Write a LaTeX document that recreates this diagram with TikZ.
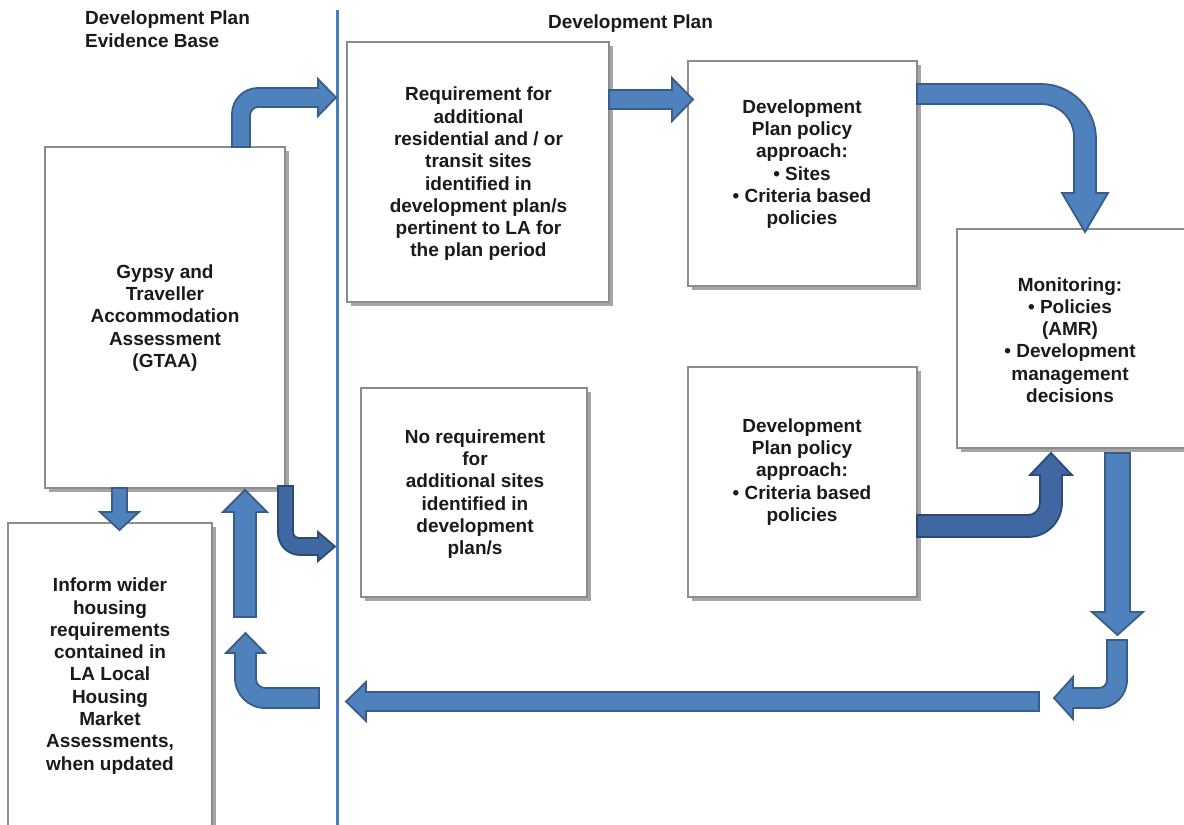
\documentclass[tikz,border=0pt]{standalone}
\usepackage{fontspec}
\setmainfont{Liberation Sans}
\usetikzlibrary{shadows}
\definecolor{arrfill}{HTML}{4F81BD}
\definecolor{arrdraw}{HTML}{385D8A}
\definecolor{darkfill}{HTML}{3F68A3}
\definecolor{darkdraw}{HTML}{2B4A75}
\definecolor{boxline}{HTML}{8C8C8C}
\definecolor{txtcol}{HTML}{1A1A1A}
\definecolor{divcol}{HTML}{4A7EBB}
\tikzset{
  box/.style={draw=boxline, line width=1.8pt, fill=white,
    drop shadow={shadow xshift=3.5pt, shadow yshift=-3.5pt, fill=black, opacity=0.35},
    inner sep=0pt},
  txt/.style={font=\bfseries\fontsize{19}{22.3}\selectfont, text=txtcol, align=center, inner sep=0pt},
  hdr/.style={font=\bfseries\fontsize{19}{23}\selectfont, text=txtcol, align=left, inner sep=0pt},
  barrow/.style={fill=arrfill, draw=arrdraw, line width=1.8pt, line join=miter},
  darrow/.style={fill=darkfill, draw=darkdraw, line width=1.8pt, line join=miter},
  divider/.style={draw=divcol, line width=3pt},
}
\begin{document}
\begin{tikzpicture}[x=1pt,y=-1pt]
\useasboundingbox (0,0) rectangle (1184,825);
\begin{scope}
\clip (0,0) rectangle (1184,825);
% headers
\node[hdr, anchor=north west] (hleft) at (85,11) {Development Plan\\Evidence Base};
\node[hdr, anchor=north west] (hright) at (548,15) {Development Plan};
% divider
\coordinate (dtop) at (337,10);
\coordinate (dbot) at (337,830);
\draw[divider] (dtop) -- (dbot);
% boxes
\node[box, minimum width=240pt, minimum height=341pt] (gtaa) at (165,317.5) {};
\node[box, minimum width=204pt, minimum height=312pt] (inform) at (110,679) {};
\node[box, minimum width=262pt, minimum height=260pt] (req) at (478,172) {};
\node[box, minimum width=229pt, minimum height=225pt] (pol1) at (802.5,173.5) {};
\node[box, minimum width=238pt, minimum height=219pt] (mon) at (1076,338.5) {};
\node[box, minimum width=226pt, minimum height=209pt] (noreq) at (474,492.5) {};
\node[box, minimum width=229pt, minimum height=230pt] (pol2) at (802.5,482) {};
% texts
\node[txt] (tgtaa) at (165,318) {Gypsy and\\Traveller\\Accommodation\\Assessment\\(GTAA)};
\node[txt] (tinform) at (110,676) {Inform wider\\housing\\requirements\\contained in\\LA Local\\Housing\\Market\\Assessments,\\when updated};
\node[txt] (treq) at (478.5,174) {Requirement for\\additional\\residential and / or\\transit sites\\identified in\\development plan/s\\pertinent to LA for\\the plan period};
\node[txt] (tpol1) at (802,164) {Development\\Plan policy\\approach:\\• Sites\\• Criteria based\\policies};
\node[txt] (tmon) at (1070,340) {Monitoring:\\• Policies\\(AMR)\\• Development\\management\\decisions};
\node[txt] (tnoreq) at (475,494) {No requirement\\for\\additional sites\\identified in\\development\\plan/s};
\node[txt] (tpol2) at (802,472) {Development\\Plan policy\\approach:\\• Criteria based\\policies};
% arrows
% GTAA -> requirement (bent)
\path[barrow] (232,147) -- (232,114) .. controls (232,99.6) and (243.6,88) .. (258,88) -- (318,88) -- (318,79) -- (336,97.5) -- (318,116) -- (318,107) -- (258,107) .. controls (253.6,107) and (250,111.4) .. (250,115) -- (250,147) -- cycle;
% requirement -> policy 1
\path[barrow] (609,90) -- (672,90) -- (672,78) -- (693,99.5) -- (672,121) -- (672,109) -- (609,109) -- cycle;
% policy 1 -> monitoring (bent)
\path[barrow] (917,84) -- (1041,84) .. controls (1071.4,84) and (1096,108.6) .. (1096,139) -- (1096,193) -- (1108,193) -- (1085,232) -- (1062,193) -- (1074,193) -- (1074,137) .. controls (1074,118.8) and (1059.2,104) .. (1041,104) -- (917,104) -- cycle;
% GTAA -> inform
\path[barrow] (112,488) -- (112,512) -- (100,512) -- (119.5,530) -- (139,512) -- (127,512) -- (127,488) -- cycle;
% up arrow to GTAA
\path[barrow] (234,617) -- (234,512) -- (223,512) -- (245,490) -- (267,512) -- (256,512) -- (256,617) -- cycle;
% GTAA -> no requirement (dark bent)
\path[darrow] (278,486) -- (278,533) .. controls (278,545.1) and (287.9,555) .. (300,555) -- (318,555) -- (318,561) -- (335,546.5) -- (318,532) -- (318,538) -- (299,538) .. controls (295.7,538) and (293,535.3) .. (293,532) -- (293,486) -- cycle;
% bottom left bent arrow
\path[barrow] (319,688) -- (265,688) .. controls (260,688) and (256,684) .. (256,679) -- (256,653) -- (265,653) -- (245.5,633) -- (226,653) -- (235,653) -- (235,678) .. controls (235,694.6) and (248.4,708) .. (265,708) -- (319,708) -- cycle;
% long left arrow
\path[barrow] (1039,692) -- (366,692) -- (366,682) -- (346,701.5) -- (366,721) -- (366,711) -- (1039,711) -- cycle;
% monitoring down
\path[barrow] (1105,453) -- (1105,612) -- (1092,612) -- (1117.5,635) -- (1143,612) -- (1130,612) -- (1130,453) -- cycle;
% bottom right bent
\path[barrow] (1107,640) -- (1107,680) .. controls (1107,684.4) and (1103.4,688) .. (1099,688) -- (1073,688) -- (1073,677) -- (1054,698) -- (1073,719) -- (1073,708) -- (1099,708) .. controls (1114.5,708) and (1127,695.5) .. (1127,680) -- (1127,640) -- cycle;
% policy 2 -> monitoring (dark bent)
\path[darrow] (917,515) -- (1028,515) .. controls (1034.6,515) and (1040,509.6) .. (1040,503) -- (1040,475) -- (1030,475) -- (1051,453) -- (1072,475) -- (1062,475) -- (1062,503) .. controls (1062,521.8) and (1046.8,537) .. (1028,537) -- (917,537) -- cycle;
\end{scope}
\end{tikzpicture}
\end{document}
